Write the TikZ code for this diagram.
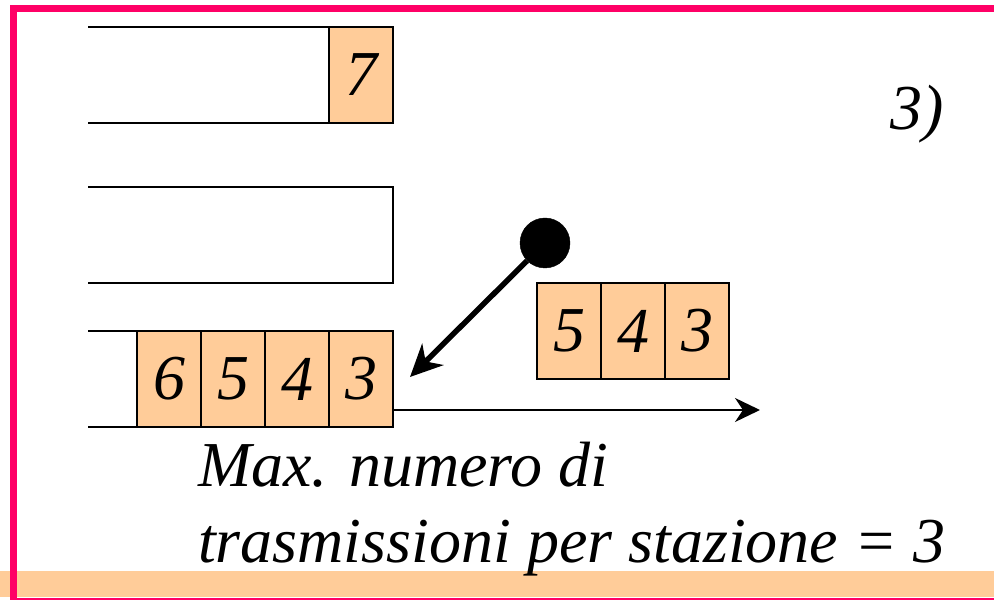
\documentclass[tikz,border=0pt]{standalone}
\usepackage{fontspec}
\setmainfont{Liberation Serif}
\usetikzlibrary{positioning,arrows.meta}
\definecolor{framepink}{HTML}{FF0066}
\definecolor{cellfill}{HTML}{FFCC99}
\newcommand{\bigit}{\itshape\fontsize{64}{76}\selectfont}
\tikzset{
  cell/.style={draw, fill=cellfill, line width=2pt, inner sep=0pt, outer sep=0pt,
    minimum width=64pt, minimum height=96pt, font=\bigit},
  queue/.style={line width=2pt},
  push/.style={line width=5.5pt, -{Stealth[length=32pt,width=30pt,inset=10pt]}},
  outflow/.style={line width=2pt, -{Stealth[length=25pt,width=24pt,inset=8pt]}},
}
\begin{document}
\begin{tikzpicture}[x=1pt,y=1pt]
		\useasboundingbox (0,0) rectangle (994,600);
		\fill[cellfill] (0,3) rectangle (994,29);% Band at the bottom
		\draw[framepink, line width=7pt] (13.5,-1.5) rectangle (1000,591.5);% Frame

		\foreach \y in {525,365,221}{% The three queues
		  \draw[queue] (88,\y+48) -- (393,\y+48) -- (393,\y-48) -- (88,\y-48);
		}

		\node[cell] (qtop7) at (361,525) {7};

		\node[cell] (qlow3) at (361,221) {3};
		\node[cell, left=0pt of qlow3] (qlow4) {4};
		\node[cell, left=0pt of qlow4] (qlow5) {5};
		\node[cell, left=0pt of qlow5] (qlow6) {6};

		\node[cell] (new5) at (569,269) {5};
		\node[cell, right=0pt of new5] (new4) {4};
		\node[cell, right=0pt of new4] (new3) {3};

		\node[draw, circle, fill, black, inner sep=0pt, minimum size=50pt] (ball) at (545,357) {};
		\coordinate (drop) at (410,223);
		\draw[push] (ball) -- (drop);

		\coordinate (qout) at (760,190);
		\draw[outflow] ([yshift=-31pt]qlow3.east) -- (qout);

		\node[font=\bigit, anchor=base] (stage) at (917,470) {3)};
		\node[font=\bigit, anchor=base west, inner sep=0pt] (limita) at (198,113) {Max. numero di};
		\node[font=\bigit, anchor=base west, inner sep=0pt] (limitb) at (198,37) {trasmissioni per stazione = 3};
	  \end{tikzpicture}
\end{document}
